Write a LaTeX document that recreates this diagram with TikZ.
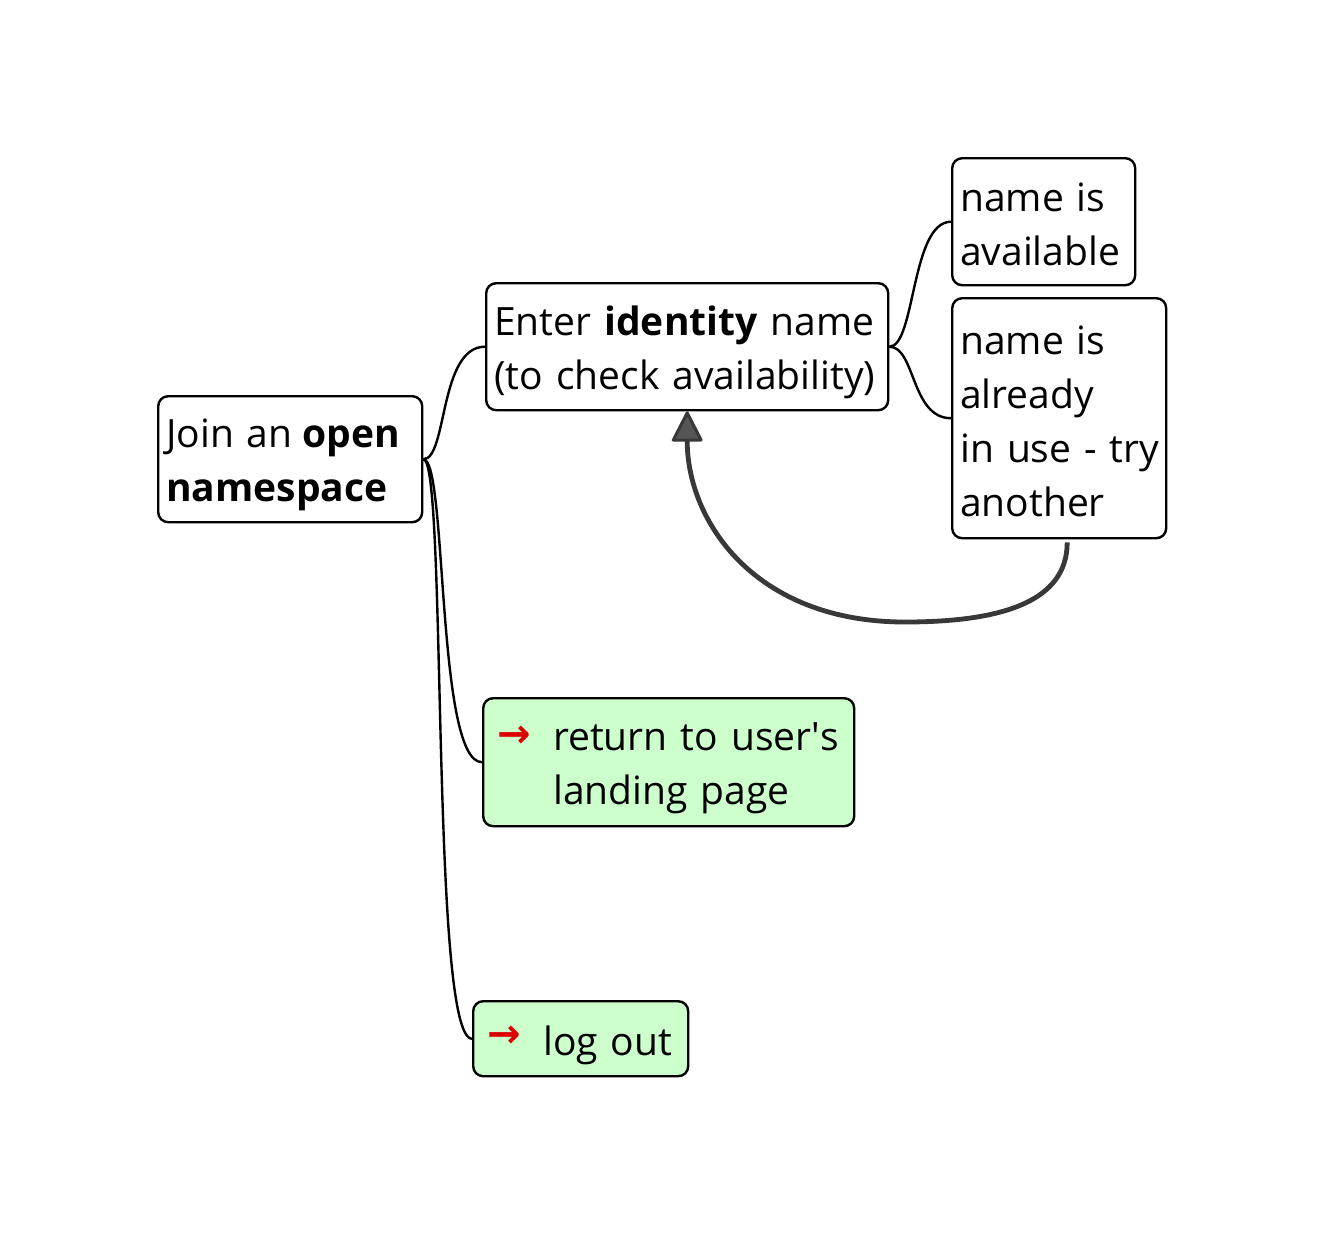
\documentclass[tikz,border=0pt]{standalone}
\usepackage{fontspec}
\setmainfont{Open Sans}
\newfontfamily\symfont{DejaVu Sans}
\usetikzlibrary{arrows.meta}
\definecolor{leafgreen}{HTML}{CCFFCC}
\definecolor{loopgray}{HTML}{383838}
\definecolor{iconred}{HTML}{DD0000}
\newcommand\liftby[1]{\rule{0pt}{#1}}
\newcommand\goicon[1]{\raisebox{#1}{\textcolor{iconred}{\symfont\bfseries\fontsize{40}{40}\selectfont →}}}
\begin{document}
\begin{tikzpicture}[x=1pt,y=-1pt,
  box/.style={draw=black, line width=2.4pt, rounded corners=10pt, fill=white,
    anchor=north west, inner xsep=8pt, inner ysep=0pt, align=left,
    font=\fontsize{39}{54}\selectfont},
  leaf/.style={box, fill=leafgreen, inner xsep=14pt},
  link/.style={draw=black, line width=2.4pt},
  loop/.style={draw=loopgray, line width=4.8pt,
    -{Triangle[length=32pt,width=32pt,line width=3pt,fill=loopgray!85,round]}}]
\useasboundingbox[fill=white] (0,0) rectangle (1325,1235);

\node[box, minimum width=264pt, minimum height=126pt, text width=248pt] (join) at (157,395)
  {\liftby{40pt}Join an\hspace{-3pt} \textbf{open}\\\textbf{namespace}};
\node[box, minimum width=402pt, minimum height=127pt, text width=386pt] (enter) at (485,282)
  {\liftby{40pt}Enter \textbf{identity} name\\(to check availability)};
\node[box, minimum width=183pt, minimum height=127pt, text width=167pt] (avail) at (951,157)
  {\liftby{34pt}name is\\available};
\node[box, minimum width=214pt, minimum height=240pt, text width=198pt] (inuse) at (951,297)
  {\liftby{34pt}name is\\already\\\mbox{in use - try}\\another};
\node[leaf, minimum width=371pt, minimum height=128pt, text width=343pt] (ret) at (482,697)
  {\begin{tabular}{@{}p{56pt}@{}l@{}}\goicon{3pt} & \liftby{46pt}return to user\textquotesingle s\\ & landing page\end{tabular}};
\node[leaf, minimum width=215pt, minimum height=75pt, text width=187pt] (logout) at (472,1000)
  {\begin{tabular}{@{}p{56pt}@{}l@{}}\goicon{8pt} & \liftby{49pt}log out\end{tabular}};

\draw[link] (join.east) .. controls +(24,0) and +(-46,0) .. (enter.west);
\draw[link] (join.east) .. controls +(24,0) and +(-46,0) .. (ret.west);
\draw[link] (join.east) .. controls +(24,0) and +(-42,0) .. (logout.west);
\draw[link] (enter.east) .. controls +(26,0) and +(-40,0) .. (avail.west);
\draw[link] (enter.east) .. controls +(26,0) and +(-40,0) .. (inuse.west);

\coordinate (loopstart) at ([xshift=8pt,yshift=-3pt]inuse.south);
\draw[loop] (loopstart) .. controls +(0,60) and +(95,0) .. (905,622)
  .. controls +(-150,0) and +(0,110) .. (enter.south);
\end{tikzpicture}
\end{document}
